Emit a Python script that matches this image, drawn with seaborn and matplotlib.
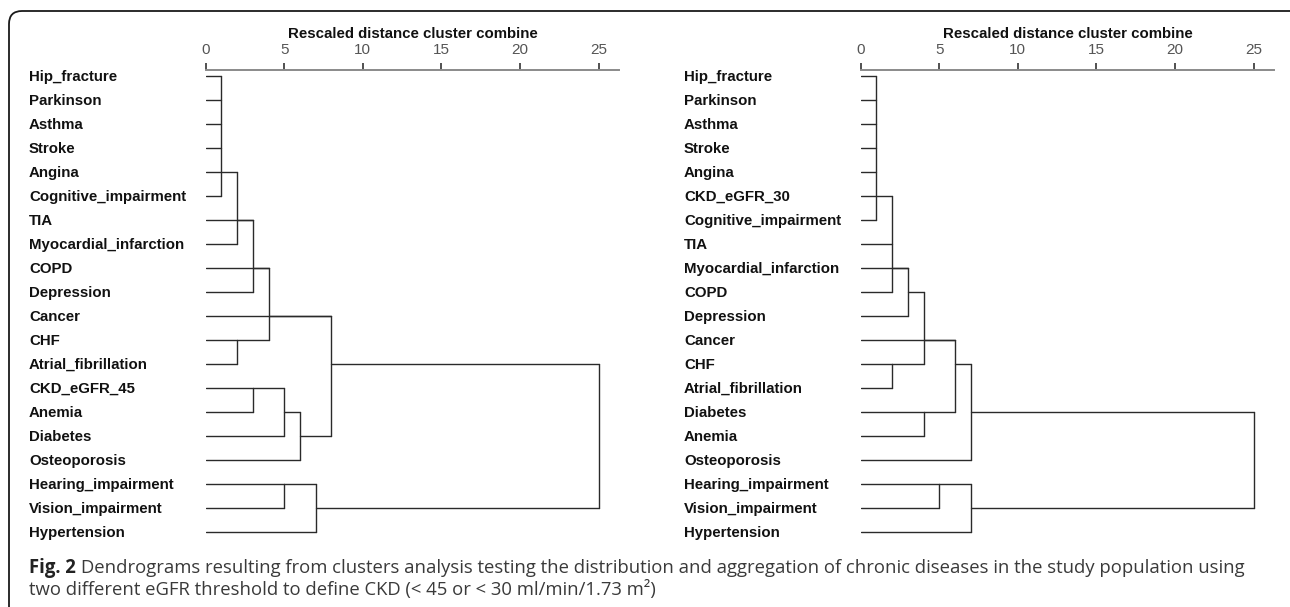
import matplotlib
matplotlib.use("Agg")
import matplotlib.pyplot as plt
import matplotlib.transforms as mtransforms
from matplotlib.patches import FancyBboxPatch
import pandas as pd
import seaborn as sns

# Row order of the two dendrograms (top to bottom)
labels_45 = ["Hip_fracture", "Parkinson", "Asthma", "Stroke", "Angina",
             "Cognitive_impairment", "TIA", "Myocardial_infarction", "COPD",
             "Depression", "Cancer", "CHF", "Atrial_fibrillation", "CKD_eGFR_45",
             "Anemia", "Diabetes", "Osteoporosis", "Hearing_impairment",
             "Vision_impairment", "Hypertension"]

labels_30 = ["Hip_fracture", "Parkinson", "Asthma", "Stroke", "Angina",
             "CKD_eGFR_30", "Cognitive_impairment", "TIA", "Myocardial_infarction",
             "COPD", "Depression", "Cancer", "CHF", "Atrial_fibrillation",
             "Diabetes", "Anemia", "Osteoporosis", "Hearing_impairment",
             "Vision_impairment", "Hypertension"]

# Merge steps: (cluster name, members, rescaled distance, row the cluster line continues on)
merges_45 = [
    ("c1", ["Hip_fracture", "Parkinson", "Asthma", "Stroke", "Angina", "Cognitive_impairment"], 1, "Angina"),
    ("c2", ["c1", "Myocardial_infarction"], 2, "TIA"),
    ("c3", ["c2", "TIA", "Depression"], 3, "COPD"),
    ("c4", ["CHF", "Atrial_fibrillation"], 2, "CHF"),
    ("c5", ["c3", "COPD", "c4"], 4, "Cancer"),
    ("c6", ["CKD_eGFR_45", "Anemia"], 3, "CKD_eGFR_45"),
    ("c7", ["c6", "Diabetes"], 5, "Anemia"),
    ("c8", ["c7", "Osteoporosis"], 6, "Diabetes"),
    ("c9", ["c5", "Cancer", "c8"], 8, "Atrial_fibrillation"),
    ("c10", ["Hearing_impairment", "Vision_impairment"], 5, "Hearing_impairment"),
    ("c11", ["c10", "Hypertension"], 7, "Vision_impairment"),
    ("c12", ["c9", "c11"], 25, None),
]

merges_30 = [
    ("c1", ["Hip_fracture", "Parkinson", "Asthma", "Stroke", "Angina", "CKD_eGFR_30",
            "Cognitive_impairment"], 1, "CKD_eGFR_30"),
    ("c2", ["c1", "TIA", "COPD"], 2, "Myocardial_infarction"),
    ("c3", ["c2", "Myocardial_infarction", "Depression"], 3, "COPD"),
    ("c4", ["CHF", "Atrial_fibrillation"], 2, "CHF"),
    ("c5", ["c3", "c4"], 4, "Cancer"),
    ("c6", ["Diabetes", "Anemia"], 4, "Diabetes"),
    ("c7", ["c5", "Cancer", "c6"], 6, "CHF"),
    ("c8", ["c7", "Osteoporosis"], 7, "Diabetes"),
    ("c9", ["Hearing_impairment", "Vision_impairment"], 5, "Hearing_impairment"),
    ("c10", ["c9", "Hypertension"], 7, "Vision_impairment"),
    ("c11", ["c8", "c10"], 25, None),
]

tick_values = [0, 5, 10, 15, 20, 25]
axis_title = "Rescaled distance cluster combine"
caption_bold = "Fig. 2"
caption_line1 = ("Dendrograms resulting from clusters analysis testing the distribution and "
                 "aggregation of chronic diseases in the study population using")
caption_line2 = "two different eGFR threshold to define CKD (< 45 or < 30 ml/min/1.73 m\u00b2)"

sns.set_style("white")
plt.rcParams["font.family"] = ["Liberation Sans", "DejaVu Sans"]

W, H = 1290, 607
LINE = "#2a2a2a"


def dendrogram_segments(labels, merges):
    """Turn the merge table into a long table of line segments (SPSS style)."""
    row = {lab: i for i, lab in enumerate(labels)}
    height = {lab: 0 for lab in labels}
    segs = []
    for name, members, h, drawn_at in merges:
        member_rows = [row[m] for m in members]
        for m in members:
            segs.append(((height[m], h), (row[m], row[m])))
        segs.append(((h, h), (min(member_rows), max(member_rows))))
        height[name] = h
        if drawn_at is not None:
            row[name] = row[drawn_at]
    records = []
    for k, (xs, ys) in enumerate(segs):
        for x, y in zip(xs, ys):
            records.append({"seg": k, "dist": x, "row": y})
    return pd.DataFrame(records)


fig = plt.figure(figsize=(W / 100, H / 100), dpi=100)

# rounded frame around the figure
frame = FancyBboxPatch((9, -20), W + 20, H - 11 + 20,
                       boxstyle="round,pad=0,rounding_size=13",
                       transform=mtransforms.IdentityTransform(),
                       fill=False, edgecolor="#1a1a1a", linewidth=1.3)
fig.patches.append(frame)

ax_top, ax_bottom = 70, 545
row_px = 24.0
first_row_px = 75.5
ylim = (19 + (ax_bottom - first_row_px - 19 * row_px) / row_px,
        -(first_row_px - ax_top) / row_px)

panels = [(labels_45, merges_45, 205.7, 29), (labels_30, merges_30, 860.7, 684)]

for labels, merges, x0_px, label_px in panels:
    ax = fig.add_axes([x0_px / W, 1 - ax_bottom / H, 413.6 / W, (ax_bottom - ax_top) / H])
    seg_df = dendrogram_segments(labels, merges)
    sns.lineplot(data=seg_df, x="dist", y="row", units="seg", estimator=None,
                 sort=False, color=LINE, linewidth=1.0, legend=False, ax=ax)
    ax.set_xlim(0, 26.32)
    ax.set_ylim(*ylim)
    ax.set_xlabel("")
    ax.set_ylabel("")
    ax.set_yticks([])
    ax.set_xticks(tick_values)
    ax.set_xticklabels([str(t) for t in tick_values])
    ax.xaxis.tick_top()
    ax.tick_params(axis="x", top=True, bottom=False, labeltop=True, labelbottom=False,
                   direction="out", length=5, width=1.2, color="#333333", pad=4.2,
                   labelsize=11, labelcolor="#555555")
    for side in ["left", "right", "bottom"]:
        ax.spines[side].set_visible(False)
    ax.spines["top"].set_color("#8a8a8a")
    ax.spines["top"].set_linewidth(1.4)
    ax.patch.set_alpha(0)

    # row labels on the left of each dendrogram
    trans = mtransforms.blended_transform_factory(fig.transFigure, ax.transData)
    for i, lab in enumerate(labels):
        ax.text(label_px / W, i, lab, transform=trans, ha="left", va="center_baseline",
                fontsize=10.8, fontweight="bold", color="#111111", clip_on=False)

    fig.text((x0_px + 413.6 / 2) / W, 1 - 33 / H, axis_title, ha="center",
             va="center_baseline", fontsize=10.8, fontweight="bold", color="#111111")

# caption
cap_font = ["Open Sans", "DejaVu Sans"]
cap_size = 13.35
t_bold = fig.text(29 / W, 1 - 573 / H, caption_bold, family=cap_font, fontweight="bold",
                  fontsize=cap_size, color="#222222", ha="left", va="baseline")
fig.canvas.draw()
bb = t_bold.get_window_extent()
fig.text((bb.x1 + 5) / W, 1 - 573 / H, caption_line1, family=cap_font, fontsize=cap_size,
         color="#3a3a3a", ha="left", va="baseline")
fig.text(29 / W, 1 - 595 / H, caption_line2, family=cap_font, fontsize=cap_size,
         color="#3a3a3a", ha="left", va="baseline")

fig.savefig("out.png", dpi=100)
